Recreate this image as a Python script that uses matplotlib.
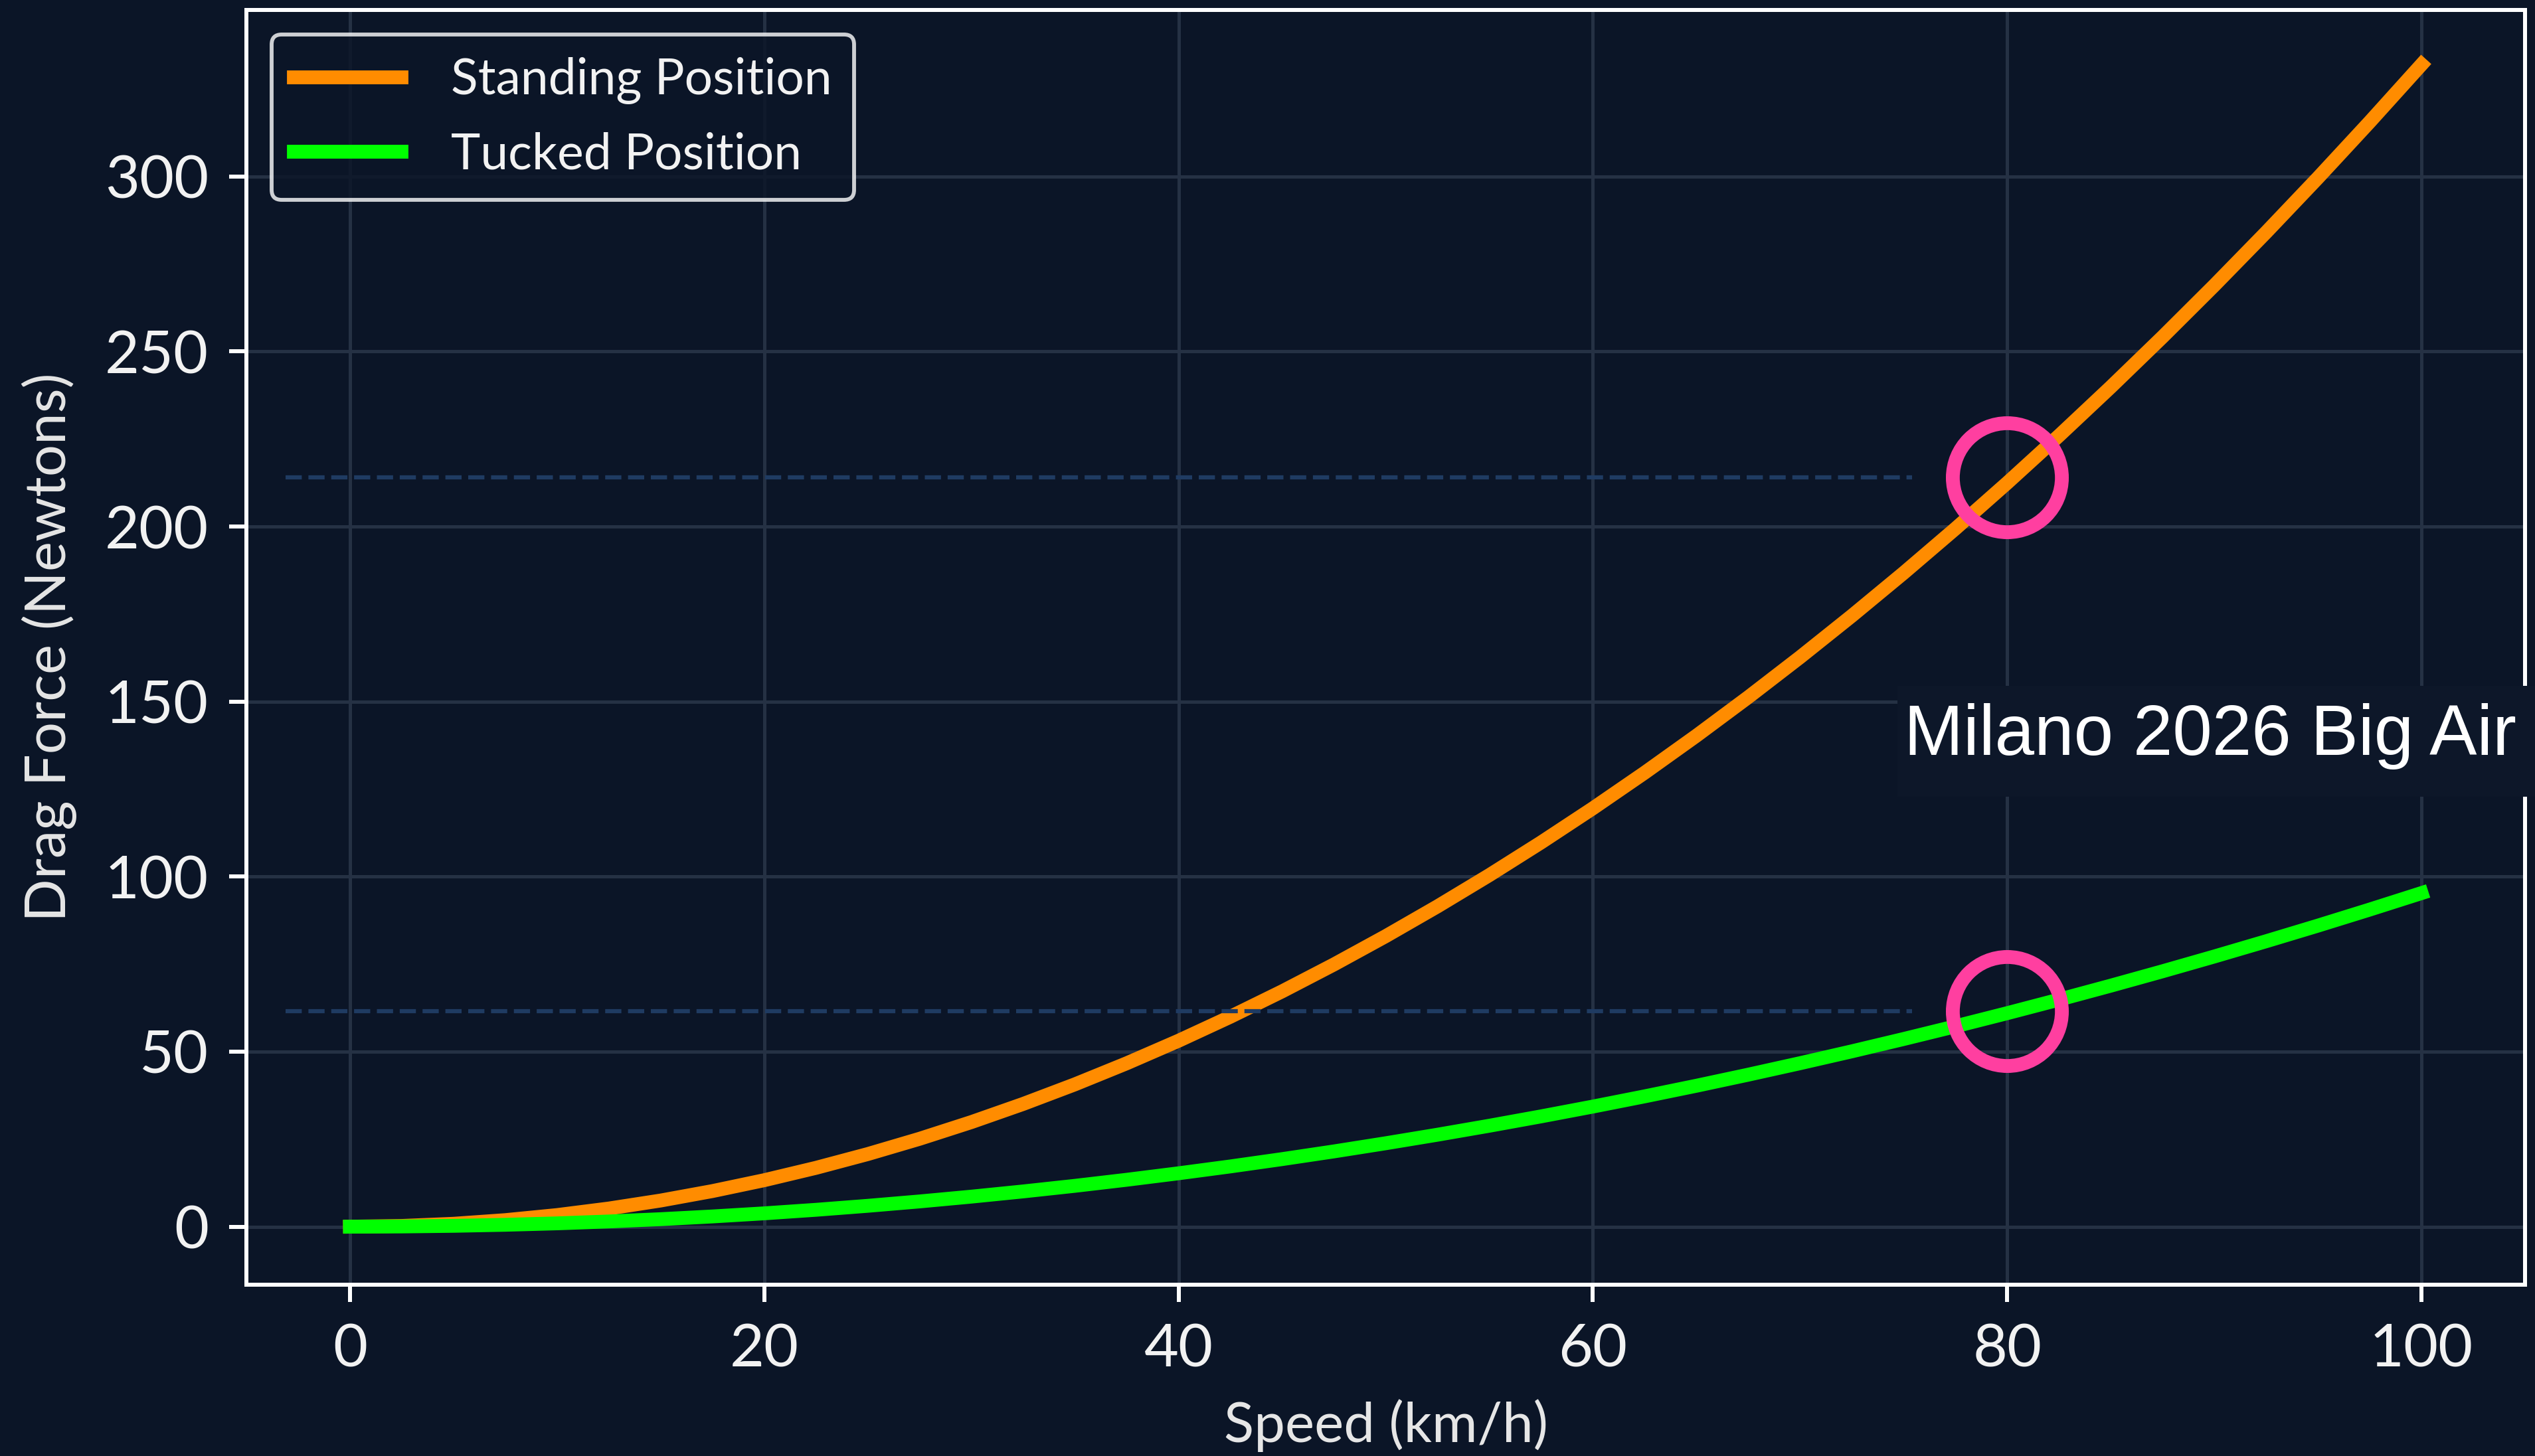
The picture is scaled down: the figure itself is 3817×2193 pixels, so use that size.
import numpy as np
import matplotlib
matplotlib.use("Agg")
import matplotlib.pyplot as plt
from matplotlib.patches import Rectangle

# values
speed_kmh = [0, 2.5, 5, 7.5, 10, 12.5, 15, 17.5, 20, 22.5, 25, 27.5, 30, 32.5, 35, 37.5,
             40, 42.5, 45, 47.5, 50, 52.5, 55, 57.5, 60, 62.5, 65, 67.5, 70, 72.5,
             75, 77.5, 80, 82.5, 85, 87.5, 90, 92.5, 95, 97.5, 100]
drag_standing = [0, 0.21, 0.83, 1.87, 3.32, 5.19, 7.47, 10.17, 13.28, 16.81, 20.75,
                 25.11, 29.88, 35.07, 40.67, 46.69, 53.12, 59.97, 67.23, 74.91, 83.0,
                 91.51, 100.43, 109.77, 119.52, 129.69, 140.27, 151.27, 162.68, 174.51,
                 186.75, 199.41, 212.48, 225.97, 239.87, 254.19, 268.92, 284.07, 299.63,
                 315.61, 332.0]
drag_tucked = [0, 0.06, 0.24, 0.54, 0.95, 1.49, 2.14, 2.92, 3.81, 4.82, 5.96,
               7.21, 8.58, 10.07, 11.67, 13.40, 15.25, 17.21, 19.30, 21.50, 23.83,
               26.27, 28.83, 31.51, 34.31, 37.23, 40.26, 43.42, 46.70, 50.09,
               53.61, 57.24, 60.99, 64.86, 68.85, 72.96, 77.19, 81.54, 86.0,
               90.59, 95.3]
highlight_speed = 80
highlight_standing = 214
highlight_tucked = 61.5
x_ticks = [0, 20, 40, 60, 80, 100]
y_ticks = [0, 50, 100, 150, 200, 250, 300]
note_text = "Milano 2026 Big Air"

bg = "#0b1527"
plt.rcParams["font.family"] = ["Lato", "DejaVu Sans"]

fig = plt.figure(figsize=(3817 / 300, 2193 / 300), dpi=300, facecolor=bg)
ax = fig.add_axes([0.0972, 0.1176, 0.8989, 0.8756], facecolor=bg)

ax.grid(True, color="#253144", linewidth=1.2, zorder=0)
ax.set_axisbelow(True)

ax.plot(speed_kmh, drag_standing, color="#ff8c00", lw=5, label="Standing Position", zorder=2)
ax.plot(speed_kmh, drag_tucked, color="#00ff00", lw=5, label="Tucked Position", zorder=2)

for yv in (highlight_standing, highlight_tucked):
    ax.hlines(yv, -3.1, 75.4, colors="#1f3b62", linestyles=(0, (3.9, 1.6)), lw=1.5, zorder=3)
    ax.plot([highlight_speed], [yv], "o", ms=39.4, mfc="none", mec="#ff3fa0", mew=5, zorder=4)

ax.set_xlim(-5, 105)
ax.set_ylim(-16.6, 347.6)
ax.set_xticks(x_ticks)
ax.set_yticks(y_ticks)
ax.tick_params(colors="white", labelcolor="#f2f2f2", labelsize=21.5,
               length=6.2, width=1.44, pad=7.5)
for s in ax.spines.values():
    s.set_color("white")
    s.set_linewidth(1.44)

ax.set_xlabel("Speed (km/h)", color="#e6e6e6", fontsize=20, labelpad=8)
ax.set_ylabel("Drag Force (Newtons)", color="#e6e6e6", fontsize=20.5, labelpad=10)

leg = ax.legend(loc="upper left", fontsize=18, facecolor=bg, edgecolor="white",
                framealpha=0.8, handlelength=2.15, handletextpad=1.0,
                borderpad=0.45, labelspacing=0.55)
leg.get_frame().set_linewidth(1.4)
for t in leg.get_texts():
    t.set_color("#f2f2f2")

# label box on the right side
fig.patches.append(Rectangle((2857 / 3817, 1 - 1200 / 2193), 1 - 2857 / 3817, 167 / 2193,
                             transform=fig.transFigure, facecolor="#0d1729",
                             edgecolor="none", zorder=5))
fig.text(2867 / 3817, 1 - 1137 / 2193, note_text, color="white", fontsize=25.7,
         family=["Liberation Sans", "DejaVu Sans"], va="baseline", ha="left", zorder=6)

fig.savefig("out.png", dpi=300, facecolor=bg)
